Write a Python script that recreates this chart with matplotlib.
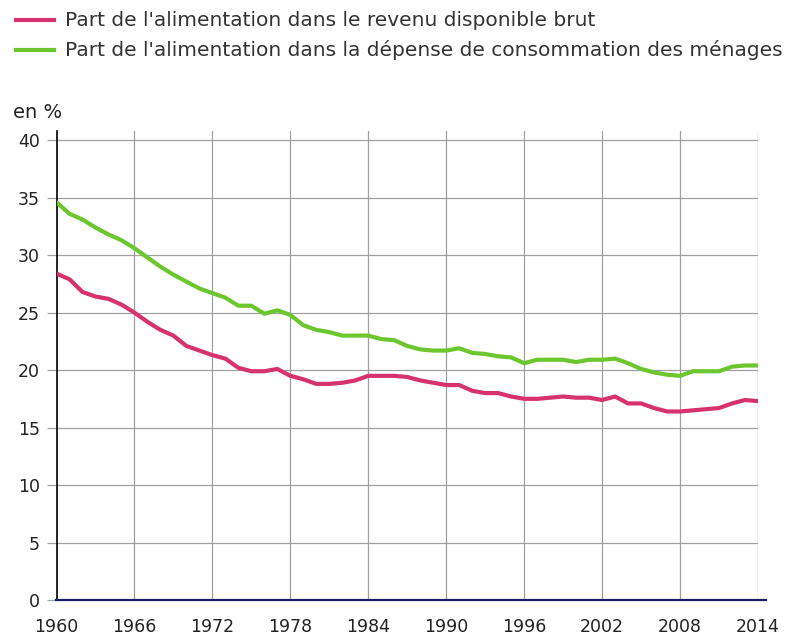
import matplotlib
matplotlib.use("Agg")
import matplotlib.pyplot as plt
from matplotlib.lines import Line2D

years = list(range(1960, 2015))

# Part de l'alimentation dans le revenu disponible brut
revenu = [28.4, 27.9, 26.8, 26.4, 26.2, 25.7, 25.0, 24.2, 23.5, 23.0,
          22.1, 21.7, 21.3, 21.0, 20.2, 19.9, 19.9, 20.1, 19.5, 19.2,
          18.8, 18.8, 18.9, 19.1, 19.5, 19.5, 19.5, 19.4, 19.1, 18.9,
          18.7, 18.7, 18.2, 18.0, 18.0, 17.7, 17.5, 17.5, 17.6, 17.7,
          17.6, 17.6, 17.4, 17.7, 17.1, 17.1, 16.7, 16.4, 16.4, 16.5,
          16.6, 16.7, 17.1, 17.4, 17.3]

# Part de l'alimentation dans la dépense de consommation des ménages
depense = [34.6, 33.6, 33.1, 32.4, 31.8, 31.3, 30.6, 29.8, 29.0, 28.3,
           27.7, 27.1, 26.7, 26.3, 25.6, 25.6, 24.9, 25.2, 24.8, 23.9,
           23.5, 23.3, 23.0, 23.0, 23.0, 22.7, 22.6, 22.1, 21.8, 21.7,
           21.7, 21.9, 21.5, 21.4, 21.2, 21.1, 20.6, 20.9, 20.9, 20.9,
           20.7, 20.9, 20.9, 21.0, 20.6, 20.1, 19.8, 19.6, 19.5, 19.9,
           19.9, 19.9, 20.3, 20.4, 20.4]

labels = ["Part de l'alimentation dans le revenu disponible brut",
          "Part de l'alimentation dans la dépense de consommation des ménages"]
red = '#d6336e'
green = '#6cc62e'

W, H = 795, 635
fig = plt.figure(figsize=(W / 100, H / 100), dpi=100)

left, right = 56.5, 758
bottom, top = 600, 131
ax = fig.add_axes([left / W, 1 - bottom / H, (right - left) / W, (bottom - top) / H])

ax.plot(years, revenu, color=red, linewidth=3, solid_capstyle='round', zorder=3)
ax.plot(years, depense, color=green, linewidth=3, solid_capstyle='round', zorder=3)

ax.set_xlim(1960, 2014)
ax.set_ylim(0, 40.8)
ax.set_xticks(list(range(1960, 2015, 6)))
ax.set_yticks(list(range(0, 41, 5)))
ax.grid(True, color='#a0a0a0', linewidth=0.9, zorder=1)
ax.plot([1960, 2014.6], [0, 0], color='#1c1c6e', linewidth=1.6, zorder=4, clip_on=False)

for s in ['top', 'right', 'bottom']:
    ax.spines[s].set_visible(False)
ax.spines['left'].set_color('black')
ax.spines['left'].set_linewidth(1.2)

ax.tick_params(axis='x', length=0, pad=13, labelsize=12.5, labelcolor='#222222')
ax.tick_params(axis='y', length=7, width=0.9, color='#a0a0a0', pad=5,
               labelsize=12.5, labelcolor='#222222')

fig.text(13 / W, 1 - 112 / H, 'en %', fontsize=14, color='#222222', va='center')

# legend drawn by hand at the top left
for i, (lab, col) in enumerate(zip(labels, [red, green])):
    y = 1 - (20 + 30 * i) / H
    fig.add_artist(Line2D([16 / W, 54 / W], [y, y], color=col, linewidth=3,
                          transform=fig.transFigure))
    fig.text(65 / W, y, lab, fontsize=14.5, color='#333333', va='center')

fig.savefig('out.png', dpi=100)
